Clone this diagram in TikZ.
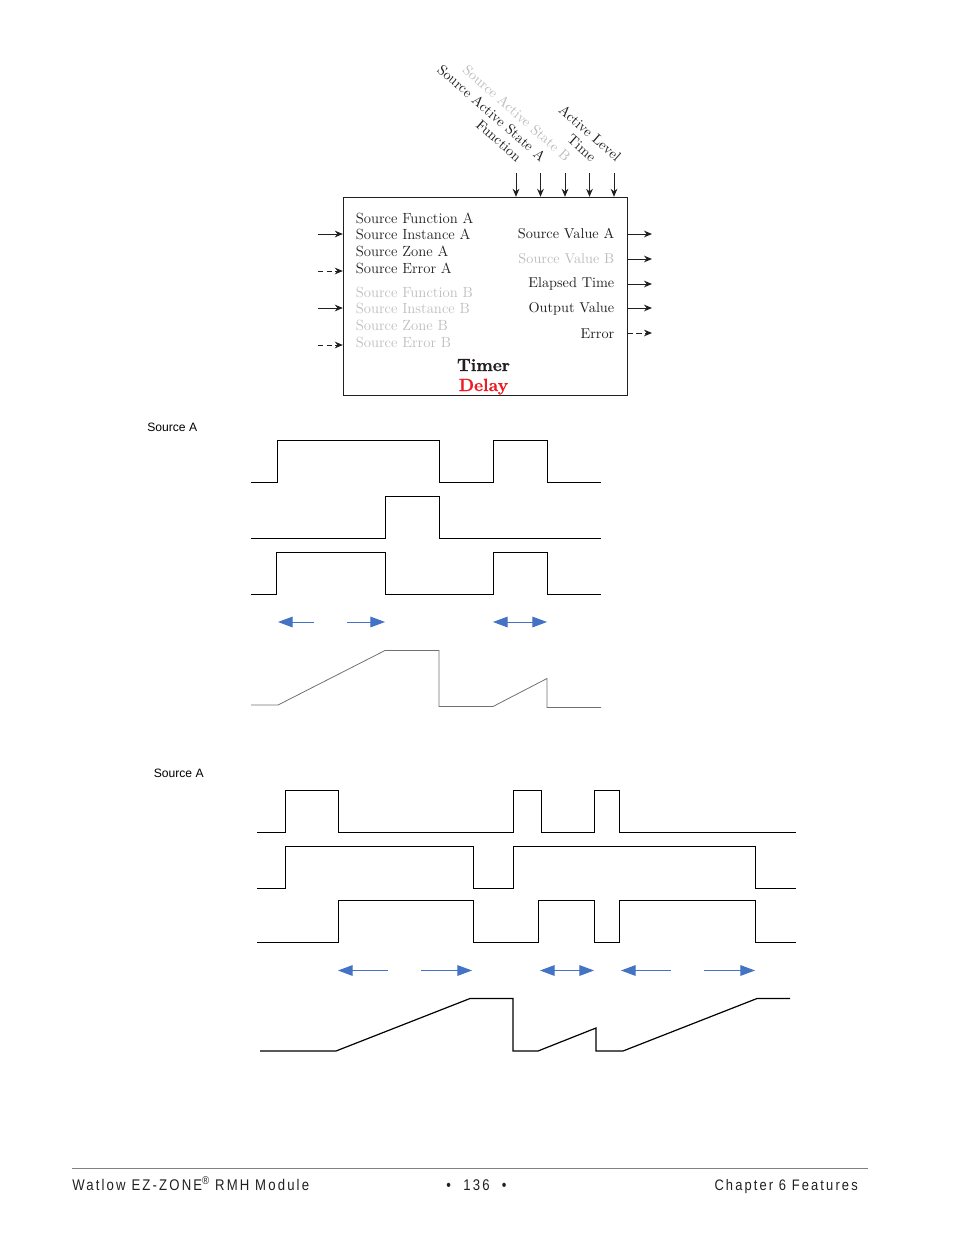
\documentclass[tikz,border=0pt]{standalone}
\usepackage{fontspec}
\usetikzlibrary{arrows.meta}
\newfontfamily\arialfont{Liberation Sans}
\newfontfamily\footfont[LetterSpace=14,FakeStretch=0.85]{Liberation Sans}
\newfontfamily\heavyfont[UprightFont=*/B,FakeBold=1]{Latin Modern Roman}
\definecolor{greyed}{HTML}{BDBDBD}
\definecolor{delayred}{HTML}{ED1C24}
\definecolor{arrowblue}{HTML}{4472C4}
\definecolor{ramp}{HTML}{707070}
\definecolor{txt}{HTML}{231F20}
\tikzset{
  x=0.75pt,y=-0.75pt,
  blocktxt/.style={inner sep=0pt,text=txt,font=\fontsize{11.05}{13}\selectfont},
  lefttxt/.style={blocktxt,anchor=base west},
  righttxt/.style={blocktxt,anchor=base east,font=\fontsize{10.7}{13}\selectfont},
  vert/.style={blocktxt,anchor=base east,rotate=-41.3,font=\fontsize{10.7}{13}\selectfont},
  off/.style={text=greyed},
  sig/.style={draw=txt,line width=0.7pt,-{Stealth[length=6pt,width=5pt]}},
  sigd/.style={sig,dash pattern=on 4pt off 2.5pt},
  wave/.style={draw=black,line width=0.75pt,line join=miter},
  thin wave/.style={draw=ramp,line width=0.6pt},
  dur/.style={draw=arrowblue,line width=0.75pt},
  durend/.style={dur,-{Triangle[length=11pt,width=8pt]}},
  durboth/.style={dur,{Triangle[length=11pt,width=8pt]}-{Triangle[length=11pt,width=8pt]}},
  srclabel/.style={inner sep=0pt,anchor=west,font=\arialfont\fontsize{9.1}{11}\selectfont},
  foot/.style={inner sep=0pt,text=txt,font=\footfont\fontsize{11.6}{13}\selectfont},
}
\begin{document}
\begin{tikzpicture}
\useasboundingbox (0,0) rectangle (954,1235);
% block
\node[draw=txt,line width=0.7pt,inner sep=0pt,minimum width=213pt,minimum height=148.5pt,anchor=north west] (box) at (342.8,196.8) {};
% rotated inputs
\node[vert] (vfunc) at (516.5,162.5) {Function};
\node[vert] (vsa) at (540.5,162.5) {Source Active State A};
\node[vert,off] (vsb) at (565.5,162.5) {Source Active State B};
\node[vert] (vtime) at (591,162.5) {Time};
\node[vert] (vlevel) at (616,162.5) {Active Level};
\foreach \n/\x in {t1/516,t2/540.5,t3/565,t4/589.5,t5/614}{
  \coordinate (\n) at (\x,173);
  \draw[sig] (\n) -- (\n |- box.north);
}
% left text
\node[lefttxt] (la1) at (355.5,223) {Source Function A};
\node[lefttxt] (la2) at (355.5,239) {Source Instance A};
\node[lefttxt] (la3) at (355.5,256) {Source Zone A};
\node[lefttxt] (la4) at (355.5,273) {Source Error A};
\node[lefttxt,off] (lb1) at (355.5,297) {Source Function B};
\node[lefttxt,off] (lb2) at (355.5,313) {Source Instance B};
\node[lefttxt,off] (lb3) at (355.5,330) {Source Zone B};
\node[lefttxt,off] (lb4) at (355.5,347) {Source Error B};
% right text
\node[righttxt] (r1) at (614.5,238) {Source Value A};
\node[righttxt,off] (r2) at (614.5,263) {Source Value B};
\node[righttxt] (r3) at (614.5,287) {Elapsed Time};
\node[righttxt] (r4) at (614.5,312) {Output Value};
\node[righttxt] (r5) at (614.5,338) {Error};
\node[inner sep=0pt,anchor=base,text=txt,font=\heavyfont\fontsize{13.2}{15}\selectfont] (timer) at (483.5,371) {Timer};
\node[inner sep=0pt,anchor=base,text=delayred,font=\heavyfont\fontsize{13.2}{15}\selectfont] (delay) at (483.5,391) {Delay};
% left arrows
\foreach \n/\y/\s in {i1/234/sig,i2/271/sigd,i3/308/sig,i4/345/sigd}{
  \coordinate (\n) at (318,\y);
  \draw[\s] (\n) -- (\n -| box.west);
}
% right arrows
\foreach \n/\y/\s in {o1/234/sig,o2/259/sig,o3/284/sig,o4/308/sig,o5/333/sigd}{
  \coordinate (\n) at (652,\y);
  \draw[\s] (\n -| box.east) -- (\n);
}
% first timing
\node[srclabel] (srcA1) at (147,427) {Source A};
\draw[wave] (251,482)--(277,482)--(277,440)--(439,440)--(439,482)--(493,482)--(493,440)--(547,440)--(547,482)--(601,482);
\draw[wave] (251,538)--(385,538)--(385,496)--(439,496)--(439,538)--(601,538);
\draw[wave] (251,594)--(276,594)--(276,552)--(385,552)--(385,594)--(493,594)--(493,552)--(547,552)--(547,594)--(601,594);
\draw[durend] (314,622)--(278,622);
\draw[durend] (347,622)--(385,622);
\draw[durboth] (493,622)--(547,622);
\draw[thin wave] (251,705)--(278,705)--(385,650.5)--(439,650.5)--(439,706.5)--(493,706.5)--(547,678.5)--(547,707.5)--(601,707.5);
% second timing
\node[srclabel] (srcA2) at (153.5,773) {Source A};
\draw[wave] (257,832)--(285,832)--(285,790)--(338,790)--(338,832)--(513,832)--(513,790)--(541,790)--(541,832)--(594,832)--(594,790)--(619,790)--(619,832)--(796,832);
\draw[wave] (257,888)--(285,888)--(285,846)--(473,846)--(473,888)--(513,888)--(513,846)--(755,846)--(755,888)--(796,888);
\draw[wave] (257,942)--(338,942)--(338,900)--(473,900)--(473,942)--(538,942)--(538,900)--(594,900)--(594,942)--(619,942)--(619,900)--(755,900)--(755,942)--(796,942);
\draw[durend] (388,970.5)--(338,970.5);
\draw[durend] (421,970.5)--(472,970.5);
\draw[durboth] (540,970.5)--(594,970.5);
\draw[durend] (671,970.5)--(621,970.5);
\draw[durend] (704,970.5)--(755,970.5);
\draw[wave,line width=0.9pt] (260,1051)--(336,1051)--(470,998.5)--(513,998.5)--(513,1051)--(538,1051)--(596,1028)--(596,1051)--(623,1051)--(757,998.5)--(790,998.5);
% footer
\coordinate (ruleL) at (72,1168.5);
\coordinate (ruleR) at (868,1168.5);
\draw[draw=black!50,line width=0.6pt] (ruleL)--(ruleR);
\node[foot,anchor=base west] (f1) at (72,1190.5) {Watlow EZ-ZONE\raisebox{0.42em}{\fontsize{8.5}{9}\selectfont ®} RMH Module};
\node[foot,anchor=base] (f2) at (476.5,1190.5) {•\hspace{0.8em}136\hspace{0.8em}•};
\node[foot,anchor=base east,font=\footfont\fontsize{11.4}{13}\selectfont] (f3) at (858,1190.5) {Chapter 6 Features};
\end{tikzpicture}
\end{document}
